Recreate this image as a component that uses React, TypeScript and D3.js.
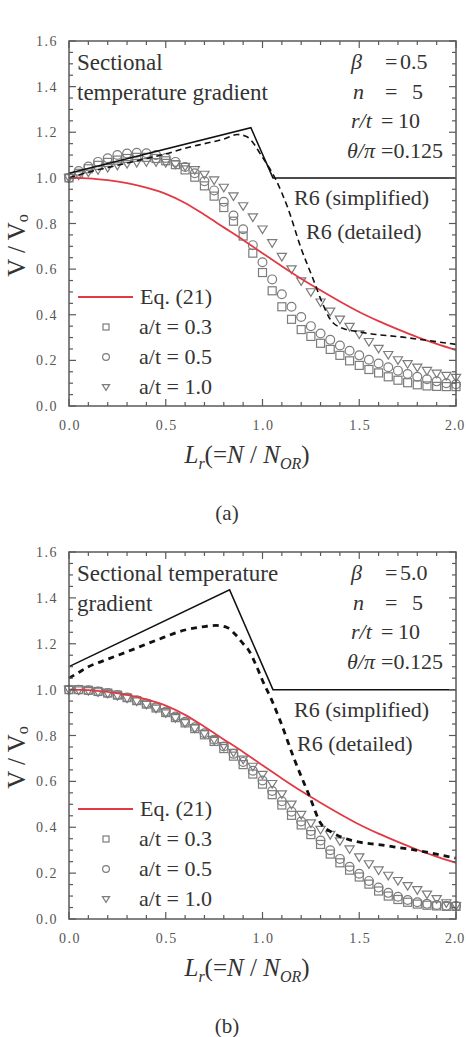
import React from 'react';
import * as d3 from 'd3';

// Normalised load ratio grid used by the FE results (a/t series)
const LR_GRID = [
  0, 0.05, 0.1, 0.15, 0.2, 0.25, 0.3, 0.35, 0.4, 0.45, 0.5, 0.55, 0.6, 0.65, 0.7, 0.75, 0.8, 0.85, 0.9, 0.95,
  1.0, 1.05, 1.1, 1.15, 1.2, 1.25, 1.3, 1.35, 1.4, 1.45, 1.5, 1.55, 1.6, 1.65, 1.7, 1.75, 1.8, 1.85, 1.9, 1.95, 2.0,
];

// Panel (a): beta = 0.5
const A_AT03 = [
  1.0, 1.02, 1.04, 1.055, 1.068, 1.078, 1.085, 1.09, 1.09, 1.085, 1.075, 1.058, 1.035, 1.003, 0.965, 0.92, 0.87, 0.81, 0.745, 0.67,
  0.585, 0.505, 0.435, 0.38, 0.335, 0.305, 0.275, 0.248, 0.222, 0.198, 0.178, 0.16, 0.145, 0.128, 0.113, 0.102, 0.093, 0.088, 0.086, 0.085, 0.085,
];
const A_AT05 = [
  1.0, 1.03, 1.05, 1.07, 1.086, 1.1, 1.107, 1.11, 1.108, 1.1, 1.087, 1.07, 1.048, 1.02, 0.985, 0.945, 0.895, 0.835, 0.775, 0.705,
  0.63, 0.555, 0.49, 0.435, 0.39, 0.35, 0.318, 0.29, 0.265, 0.242, 0.222, 0.203, 0.186, 0.17, 0.155, 0.14, 0.128, 0.117, 0.108, 0.1, 0.095,
];
const A_AT10 = [
  1.0, 1.012, 1.025, 1.035, 1.045, 1.055, 1.062, 1.067, 1.07, 1.07, 1.067, 1.06, 1.05, 1.035, 1.015, 0.99, 0.958, 0.92, 0.877, 0.828,
  0.775, 0.715, 0.655, 0.6, 0.548, 0.5, 0.455, 0.415, 0.38, 0.348, 0.315, 0.282, 0.252, 0.225, 0.202, 0.185, 0.17, 0.155, 0.143, 0.133, 0.125,
];
const A_R6S_LR = [0, 0.94, 1.054, 2.0];
const A_R6S_V = [1.02, 1.22, 1.0, 1.0];
const A_R6D_LR = [0, 0.1, 0.2, 0.3, 0.4, 0.5, 0.6, 0.7, 0.8, 0.87, 0.92, 1.0, 1.07, 1.13, 1.2, 1.26, 1.31, 1.35, 1.4, 1.5, 1.74, 2.0];
const A_R6D_V = [1.0, 1.025, 1.045, 1.065, 1.085, 1.105, 1.13, 1.15, 1.17, 1.19, 1.18, 1.09, 0.99, 0.87, 0.69, 0.56, 0.45, 0.38, 0.345, 0.325, 0.3, 0.27];

// Panel (b): beta = 5.0
const B_AT03 = [
  1.0, 1.0, 0.997, 0.992, 0.985, 0.976, 0.965, 0.952, 0.937, 0.92, 0.9, 0.878, 0.855, 0.83, 0.803, 0.774, 0.743, 0.71, 0.673, 0.632,
  0.588, 0.542, 0.497, 0.452, 0.41, 0.368, 0.325, 0.283, 0.245, 0.213, 0.183, 0.152, 0.122, 0.1, 0.085, 0.073, 0.065, 0.06, 0.057, 0.055, 0.055,
];
const B_AT05 = [
  1.0, 1.0, 0.997, 0.992, 0.985, 0.977, 0.966, 0.954, 0.94, 0.923, 0.904, 0.883, 0.86, 0.836, 0.81, 0.782, 0.752, 0.72, 0.685, 0.646,
  0.604, 0.558, 0.513, 0.468, 0.425, 0.384, 0.342, 0.3, 0.262, 0.228, 0.197, 0.166, 0.137, 0.114, 0.097, 0.083, 0.073, 0.066, 0.061, 0.058, 0.057,
];
const B_AT10 = [
  1.0, 0.998, 0.995, 0.99, 0.983, 0.974, 0.963, 0.95, 0.935, 0.918, 0.898, 0.877, 0.855, 0.832, 0.808, 0.782, 0.755, 0.726, 0.696, 0.665,
  0.63, 0.59, 0.545, 0.5, 0.455, 0.418, 0.39, 0.368, 0.34, 0.305, 0.27, 0.24, 0.213, 0.19, 0.167, 0.145, 0.127, 0.108, 0.088, 0.07, 0.058,
];
const B_R6S_LR = [0, 0.83, 1.054, 2.0];
const B_R6S_V = [1.1, 1.435, 1.0, 1.0];
const B_R6D_LR = [0, 0.05, 0.1, 0.16, 0.3, 0.45, 0.6, 0.7, 0.76, 0.82, 0.86, 0.9, 0.93, 0.97, 1.0, 1.05, 1.09, 1.166, 1.244, 1.3, 1.365, 1.45, 1.62, 1.79, 2.0];
const B_R6D_V = [1.05, 1.075, 1.1, 1.12, 1.165, 1.215, 1.26, 1.275, 1.28, 1.27, 1.24, 1.2, 1.17, 1.1, 1.04, 0.95, 0.867, 0.693, 0.533, 0.418, 0.375, 0.345, 0.322, 0.3, 0.265];

// Eq. (21) curve (shared by both panels)
const EQ21_LR = [0, 0.1, 0.2, 0.3, 0.4, 0.5, 0.6, 0.7, 0.8, 0.9, 1.0, 1.1, 1.2, 1.3, 1.4, 1.5, 1.6, 1.7, 1.8, 1.9, 2.0];
const EQ21_V = [1.0, 0.998, 0.99, 0.977, 0.957, 0.93, 0.89, 0.838, 0.783, 0.728, 0.67, 0.613, 0.558, 0.507, 0.458, 0.412, 0.372, 0.336, 0.302, 0.272, 0.245];

// Axis ticks
const X_MAJOR = [0, 0.5, 1.0, 1.5, 2.0];
const X_LABELS = ['0.0', '0.5', '1.0', '1.5', '2.0'];
const Y_MAJOR = [0, 0.2, 0.4, 0.6, 0.8, 1.0, 1.2, 1.4, 1.6];
const Y_LABELS = ['0.0', '0.2', '0.4', '0.6', '0.8', '1.0', '1.2', '1.4', '1.6'];

const LEGEND = ['a/t = 0.3', 'a/t = 0.5', 'a/t = 1.0'];

const FONT = '"Liberation Serif", "Times New Roman", serif';
const RED = '#e23a44';
const MARK = '#7c7c7c';
const AXIS = '#5a5a5a';
const INK = '#333';

type Shape = 'square' | 'circle' | 'triangle';

function Marker({ shape, cx, cy, s }: { shape: Shape; cx: number; cy: number; s: number }) {
  const common = { fill: 'none', stroke: MARK, strokeWidth: 1.2 };
  if (shape === 'square') return <rect x={cx - s / 2} y={cy - s / 2} width={s} height={s} {...common} />;
  if (shape === 'circle') return <circle cx={cx} cy={cy} r={s / 2 + 0.4} {...common} />;
  const h = s * 0.95;
  return (
    <path
      d={`M${cx - s / 2 - 0.6},${cy - h * 0.42}L${cx + s / 2 + 0.6},${cy - h * 0.42}L${cx},${cy + h * 0.58}Z`}
      {...common}
    />
  );
}

interface PanelProps {
  top: number;
  bottom: number;
  sq: number[];
  ci: number[];
  tr: number[];
  r6sLr: number[];
  r6sV: number[];
  r6dLr: number[];
  r6dV: number[];
  dashWidth: number;
  beta: string;
  titleLines: string[];
  tag: string;
  legendY: number;
}

function Panel(p: PanelProps) {
  const left = 69;
  const right = 456;
  const x = d3.scaleLinear().domain([0, 2]).range([left, right]);
  const y = d3.scaleLinear().domain([0, 1.6]).range([p.bottom, p.top]);

  const xMinor = d3.range(0, 21).map((i) => i / 10);
  const yMinor = d3.range(0, 33).map((i) => i / 20);

  const zip = (a: number[], b: number[]) => a.map((v, i) => [v, b[i]] as [number, number]);

  const redPath = d3
    .line<[number, number]>()
    .x((d) => x(d[0]))
    .y((d) => y(d[1]))
    .curve(d3.curveMonotoneX)(zip(EQ21_LR, EQ21_V)) as string;
  const r6s = d3
    .line<[number, number]>()
    .x((d) => x(d[0]))
    .y((d) => y(d[1]))(zip(p.r6sLr, p.r6sV)) as string;
  const r6d = d3
    .line<[number, number]>()
    .x((d) => x(d[0]))
    .y((d) => y(d[1]))
    .curve(d3.curveMonotoneX)(zip(p.r6dLr, p.r6dV)) as string;

  const series: [number[], Shape][] = [
    [p.sq, 'square'],
    [p.ci, 'circle'],
    [p.tr, 'triangle'],
  ];

  const annX = { sym: 351, eq: 385, val: 400 };
  const annY0 = p.top + 28;
  const annStep = 29.5;
  const y1 = y(1.0);

  return (
    <g fontFamily={FONT}>
      {/* markers */}
      {series.map(([vals, shape]) =>
        LR_GRID.map((lr, i) => <Marker key={shape + i} shape={shape} cx={x(lr)} cy={y(vals[i])} s={8} />)
      )}
      {/* Eq. (21) */}
      <path d={redPath} fill="none" stroke={RED} strokeWidth={1.8} />
      {/* R6 detailed */}
      <path d={r6d} fill="none" stroke="#111" strokeWidth={p.dashWidth} strokeDasharray={p.dashWidth > 2 ? '6,5' : '6,4'} />
      {/* R6 simplified */}
      <path d={r6s} fill="none" stroke="#111" strokeWidth={1.5} />

      {/* frame */}
      <rect x={left} y={p.top} width={right - left} height={p.bottom - p.top} fill="none" stroke={AXIS} strokeWidth={1.5} />
      {xMinor.map((v, i) => {
        const major = i % 5 === 0;
        const len = major ? 7 : 4;
        return (
          <g key={'xt' + i} stroke={AXIS} strokeWidth={1.2}>
            <line x1={x(v)} x2={x(v)} y1={p.bottom} y2={p.bottom - len} />
            <line x1={x(v)} x2={x(v)} y1={p.top} y2={p.top + len} />
          </g>
        );
      })}
      {yMinor.map((v, i) => {
        const major = i % 4 === 0;
        const len = major ? 7 : 4;
        return (
          <g key={'yt' + i} stroke={AXIS} strokeWidth={1.2}>
            <line x1={left} x2={left + len} y1={y(v)} y2={y(v)} />
            <line x1={right} x2={right - len} y1={y(v)} y2={y(v)} />
          </g>
        );
      })}
      {X_MAJOR.map((v, i) => {
        const last = i === X_MAJOR.length - 1;
        return (
          <text
            key={'xl' + i}
            x={last ? 465 : x(v) + 1}
            y={p.bottom + 24}
            textAnchor={last ? 'end' : 'middle'}
            fontSize={14}
            letterSpacing={last ? 0.8 : 1.5}
            fill="#555"
          >
            {X_LABELS[i]}
          </text>
        );
      })}
      {Y_MAJOR.map((v, i) => (
        <text key={'yl' + i} x={58} y={y(v) + 5} textAnchor="end" fontSize={14} letterSpacing={1.5} fill="#555">
          {Y_LABELS[i]}
        </text>
      ))}

      {/* axis titles */}
      <text x={247} y={p.bottom + 57} textAnchor="middle" fontSize={25} fill={INK}>
        <tspan fontStyle="italic">L</tspan>
        <tspan fontStyle="italic" fontSize={16} dy={6}>r</tspan>
        <tspan dy={-6}>(=</tspan>
        <tspan fontStyle="italic">N</tspan>
        <tspan> / </tspan>
        <tspan fontStyle="italic">N</tspan>
        <tspan fontStyle="italic" fontSize={16} dy={6}>OR</tspan>
        <tspan dy={-6}>)</tspan>
      </text>
      <text transform={`translate(25,${(p.top + p.bottom) / 2 + 22}) rotate(-90)`} textAnchor="middle" fontSize={25} fill={INK}>
        <tspan>V / V</tspan>
        <tspan fontSize={16} dy={3}>o</tspan>
      </text>
      <text x={227} y={p.bottom + 114} textAnchor="middle" fontSize={21} fill={INK}>
        {p.tag}
      </text>

      {/* case description */}
      {p.titleLines.map((t, i) => (
        <text key={'tl' + i} x={77} y={p.top + 29 + i * 29.5} fontSize={23} fill={INK}>
          {t}
        </text>
      ))}
      <g fontSize={22} fill={INK}>
        <text x={annX.sym} y={annY0}>
          <tspan fontStyle="italic">β</tspan>
          <tspan x={annX.eq}>=</tspan>
          <tspan x={annX.val}>{p.beta}</tspan>
        </text>
        <text x={annX.sym + 2} y={annY0 + annStep}>
          <tspan fontStyle="italic">n</tspan>
          <tspan x={annX.eq}>=</tspan>
          <tspan x={annX.val + 12}>5</tspan>
        </text>
        <text x={annX.sym} y={annY0 + annStep * 2}>
          <tspan fontStyle="italic">r/t</tspan>
          <tspan x={annX.eq - 4}>=</tspan>
          <tspan x={annX.val - 2}>10</tspan>
        </text>
        <text x={annX.sym - 4} y={annY0 + annStep * 3}>
          <tspan fontStyle="italic">θ/π</tspan>
          <tspan x={annX.eq - 4}>=0.125</tspan>
        </text>
      </g>
      <text x={294} y={y1 + 27} fontSize={22} fill={INK}>R6 (simplified)</text>
      <text x={p.tag === '(a)' ? 306 : 297} y={y1 + 61} fontSize={22} fill={INK}>R6 (detailed)</text>

      {/* legend */}
      <line x1={78} x2={133} y1={p.legendY} y2={p.legendY} stroke={RED} strokeWidth={1.8} />
      <text x={140} y={p.legendY + 7} fontSize={22} fill={INK}>Eq. (21)</text>
      {series.map(([, shape], i) => (
        <g key={'lg' + i}>
          <Marker shape={shape} cx={106} cy={p.legendY + 30 * (i + 1)} s={6} />
          <text x={139} y={p.legendY + 30 * (i + 1) + 7} fontSize={22} fill={INK}>
            {LEGEND[i]}
          </text>
        </g>
      ))}
    </g>
  );
}

export default function App() {
  return (
    <svg width={466} height={1037} style={{ position: 'absolute', left: 0, top: 0, background: '#fff' }}>
      <rect width={466} height={1037} fill="#fff" />
      <Panel
        top={41}
        bottom={406}
        sq={A_AT03}
        ci={A_AT05}
        tr={A_AT10}
        r6sLr={A_R6S_LR}
        r6sV={A_R6S_V}
        r6dLr={A_R6D_LR}
        r6dV={A_R6D_V}
        dashWidth={1.6}
        beta="0.5"
        titleLines={['Sectional', 'temperature gradient']}
        tag="(a)"
        legendY={297}
      />
      <Panel
        top={552}
        bottom={919}
        sq={B_AT03}
        ci={B_AT05}
        tr={B_AT10}
        r6sLr={B_R6S_LR}
        r6sV={B_R6S_V}
        r6dLr={B_R6D_LR}
        r6dV={B_R6D_V}
        dashWidth={2.8}
        beta="5.0"
        titleLines={['Sectional temperature', 'gradient']}
        tag="(b)"
        legendY={809}
      />
    </svg>
  );
}
